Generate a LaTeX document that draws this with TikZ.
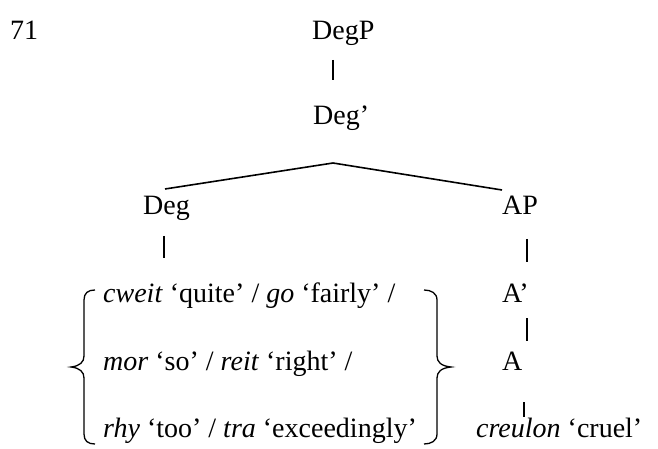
\documentclass[tikz,border=0pt]{standalone}
\usepackage{fontspec}
\setmainfont{Liberation Serif}
\begin{document}
\begin{tikzpicture}[x=1bp,y=-1bp,
  lbl/.style={inner sep=0pt, anchor=base west, font=\fontsize{28bp}{33bp}\selectfont},
  edge/.style={line width=1.6bp, black},
  bar/.style={line width=1.6bp, black},
  curly/.style={line width=1.3bp, black}]
\useasboundingbox (0,0) rectangle (658,449);

% example number
\node[lbl] (num) at (10,40) {71};

% top of the tree
\node[lbl] (degp)  at (312,40)  {DegP};
\node[lbl] (degb)  at (313,125) {Deg’};
\coordinate (apex) at (333,163);
\coordinate (lend) at (165,189);
\coordinate (rend) at (502,190);
\node[lbl] (deg)   at (143,215) {Deg};
\node[lbl] (ap)    at (502,215) {AP};

% branching lines
\draw[edge] (apex) -- (lend);
\draw[edge] (apex) -- (rend);

% unary bars
\coordinate (b1t) at (333,60);  \coordinate (b1b) at (333,80);
\coordinate (b2t) at (164,236); \coordinate (b2b) at (164,258);
\coordinate (b3t) at (527,239); \coordinate (b3b) at (527,262);
\coordinate (b4t) at (527,318); \coordinate (b4b) at (527,341);
\coordinate (b5t) at (524,402); \coordinate (b5b) at (524,417);
\foreach \t/\b in {b1t/b1b,b2t/b2b,b3t/b3b,b4t/b4b,b5t/b5b}
  \draw[bar] (\t) -- (\b);

% adjective column
\node[lbl] (abar)  at (502,303) {A’};
\node[lbl] (a)     at (502,370) {A};
\node[lbl] (cruel) at (476,437) {\textit{creulon} ‘cruel’};

% list of degree words
\node[lbl] (r1) at (103,303) {\textit{cweit} ‘quite’ / \textit{go} ‘fairly’ /};
\node[lbl] (r2) at (103,370) {\textit{mor} ‘so’ / \textit{reit} ‘right’ /};
\node[lbl] (r3) at (103,437) {\textit{rhy} ‘too’ / \textit{tra} ‘exceedingly’};

% braces around the list
\draw[curly] (95,290) .. controls (88,290) and (84,293) .. (84,300)
  -- (84,356) .. controls (84,362) and (80,366) .. (71,367)
  .. controls (80,368) and (84,372) .. (84,378)
  -- (84,434) .. controls (84,441) and (88,444) .. (95,444);
\draw[curly] (424,290) .. controls (431,290) and (437,293) .. (437,300)
  -- (437,356) .. controls (437,362) and (441,366) .. (451,367)
  .. controls (441,368) and (437,372) .. (437,378)
  -- (437,434) .. controls (437,441) and (431,444) .. (424,444);
\end{tikzpicture}
\end{document}
